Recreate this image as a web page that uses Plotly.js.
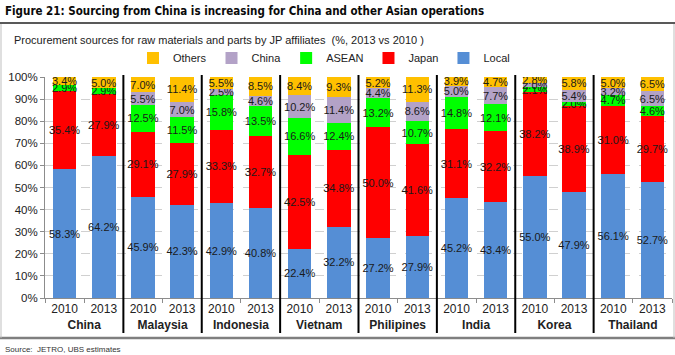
<!DOCTYPE html>
<html>
<head>
<meta charset="utf-8">
<script src="https://cdn.plot.ly/plotly-3.0.1.min.js"></script>
<style>html,body{margin:0;padding:0;background:#fff;}#chart{width:675px;height:355px;}</style>
</head>
<body>
<div id="chart"></div>
<script>
var countries = ["China","Malaysia","Indonesia","Vietnam","Philipines","India","Korea","Thailand"];
var years = ["2010","2013"];
var local  = [58.3,64.2,45.9,42.3,42.9,40.8,22.4,32.2,27.2,27.9,45.2,43.4,55.0,47.9,56.1,52.7];
var japan  = [35.4,27.9,29.1,27.9,33.3,32.7,42.5,34.8,50.0,41.6,31.1,32.2,38.2,38.9,31.0,29.7];
var asean  = [2.9,2.9,12.5,11.5,15.8,13.5,16.6,12.4,13.2,10.7,14.8,12.1,2.1,2.0,4.7,4.6];
var chinaS = [0.0,0.0,5.5,7.0,2.5,4.6,10.2,11.4,4.4,8.6,5.0,7.7,2.0,5.4,3.2,6.5];
var others = [3.4,5.0,7.0,11.4,5.5,8.5,8.4,9.3,5.2,11.3,3.9,4.7,2.8,5.8,5.0,6.5];
var yTicks = [0,10,20,30,40,50,60,70,80,90,100];

var xCountry = [], xYear = [];
countries.forEach(function(c){ years.forEach(function(y){ xCountry.push("<b>" + c + "</b>"); xYear.push(y); }); });

var FONT = "Liberation Sans, Arial, sans-serif";
function tr(name, vals, color){
  return {
    type: "bar", name: name, x: [xCountry, xYear], y: vals,
    marker: {color: color, line: {width: 0}},
    texttemplate: "%{y:.1f}%", textposition: "inside", insidetextanchor: "middle",
    textangle: 0, textfont: {family: FONT, size: 11, color: "#1a1a1a"},
    hoverinfo: "none"
  };
}
var data = [
  tr("Local", local, "#558ED5"),
  tr("Japan", japan, "#FF0000"),
  tr("ASEAN", asean, "#00FF00"),
  tr("China", chinaS, "#B3A2C7"),
  tr("Others", others, "#FFC000")
];

// plot area: x 45..672, y 77..298
function px(x){ return (x-45)/627; }
function py(y){ return (298-y)/221; }

var shapes = [];
for (var k=1;k<countries.length;k++){
  shapes.push({type:"line", xref:"paper", yref:"paper", x0:k/countries.length, x1:k/countries.length,
    y0:py(333), y1:py(75), line:{color:"#000", width:2}});
}
shapes.push({type:"line", xref:"paper", yref:"paper", x0:px(0), x1:px(675), y0:py(23), y1:py(23), line:{color:"#595959", width:2}});
shapes.push({type:"line", xref:"paper", yref:"paper", x0:px(0), x1:px(675), y0:py(338), y1:py(338), line:{color:"#7f7f7f", width:2.5}});
shapes.push({type:"line", xref:"paper", yref:"paper", x0:px(1), x1:px(1), y0:py(24), y1:py(338), line:{color:"#bfbfbf", width:1}});
shapes.push({type:"line", xref:"paper", yref:"paper", x0:px(674), x1:px(674), y0:py(24), y1:py(338), line:{color:"#bfbfbf", width:1}});

var layout = {
  width: 675, height: 355,
  margin: {l:45, r:3, t:77, b:57},
  paper_bgcolor: "#fff", plot_bgcolor: "#fff",
  barmode: "stack", bargap: 0.4,
  font: {family: FONT, size: 11, color: "#222"},
  uniformtext: {minsize: 11, mode: "show"},
  showlegend: true,
  legend: {orientation: "h", traceorder: "reversed", x: px(133), y: py(58), xanchor: "left", yanchor: "middle",
    font: {family: FONT, size: 11, color: "#222"}, itemwidth: 30, bgcolor: "rgba(0,0,0,0)"},
  xaxis: {type: "multicategory", showdividers: false, showline: true, linecolor: "#8c8c8c", linewidth: 1,
    ticks: "outside", ticklen: 4, tickcolor: "#8c8c8c", tickfont: {family: FONT, size: 12, color: "#222"},
    showgrid: false},
  yaxis: {range: [0,100], tickvals: yTicks, ticktext: yTicks.map(function(v){ return v + "%"; }),
    showline: true, linecolor: "#8c8c8c",
    ticks: "outside", ticklen: 4, tickcolor: "#8c8c8c", showgrid: true, gridcolor: "#d0d0d0", griddash: "dash",
    tickfont: {family: FONT, size: 11.5, color: "#222"}, zeroline: false, fixedrange: true},
  shapes: shapes,
  annotations: [
    {xref:"paper", yref:"paper", x:px(3), y:py(11), xanchor:"left", yanchor:"middle", showarrow:false,
     text:"<b>Figure 21: Sourcing from China is increasing for China and other Asian operations</b>",
     font:{family:"DejaVu Sans Condensed, sans-serif", size:11.5, color:"#0a0a0a"}},
    {xref:"paper", yref:"paper", x:px(12), y:py(40), xanchor:"left", yanchor:"middle", showarrow:false,
     text:"Procurement sources for raw materials and parts by JP affiliates  (%, 2013 vs 2010 )",
     font:{family:FONT, size:11, color:"#222"}},
    {xref:"paper", yref:"paper", x:px(3), y:py(349), xanchor:"left", yanchor:"middle", showarrow:false,
     text:"Source:  JETRO, UBS estimates",
     font:{family:FONT, size:8, color:"#333"}}
  ]
};
Plotly.newPlot("chart", data, layout, {staticPlot: true, displayModeBar: false});
</script>
</body>
</html>
